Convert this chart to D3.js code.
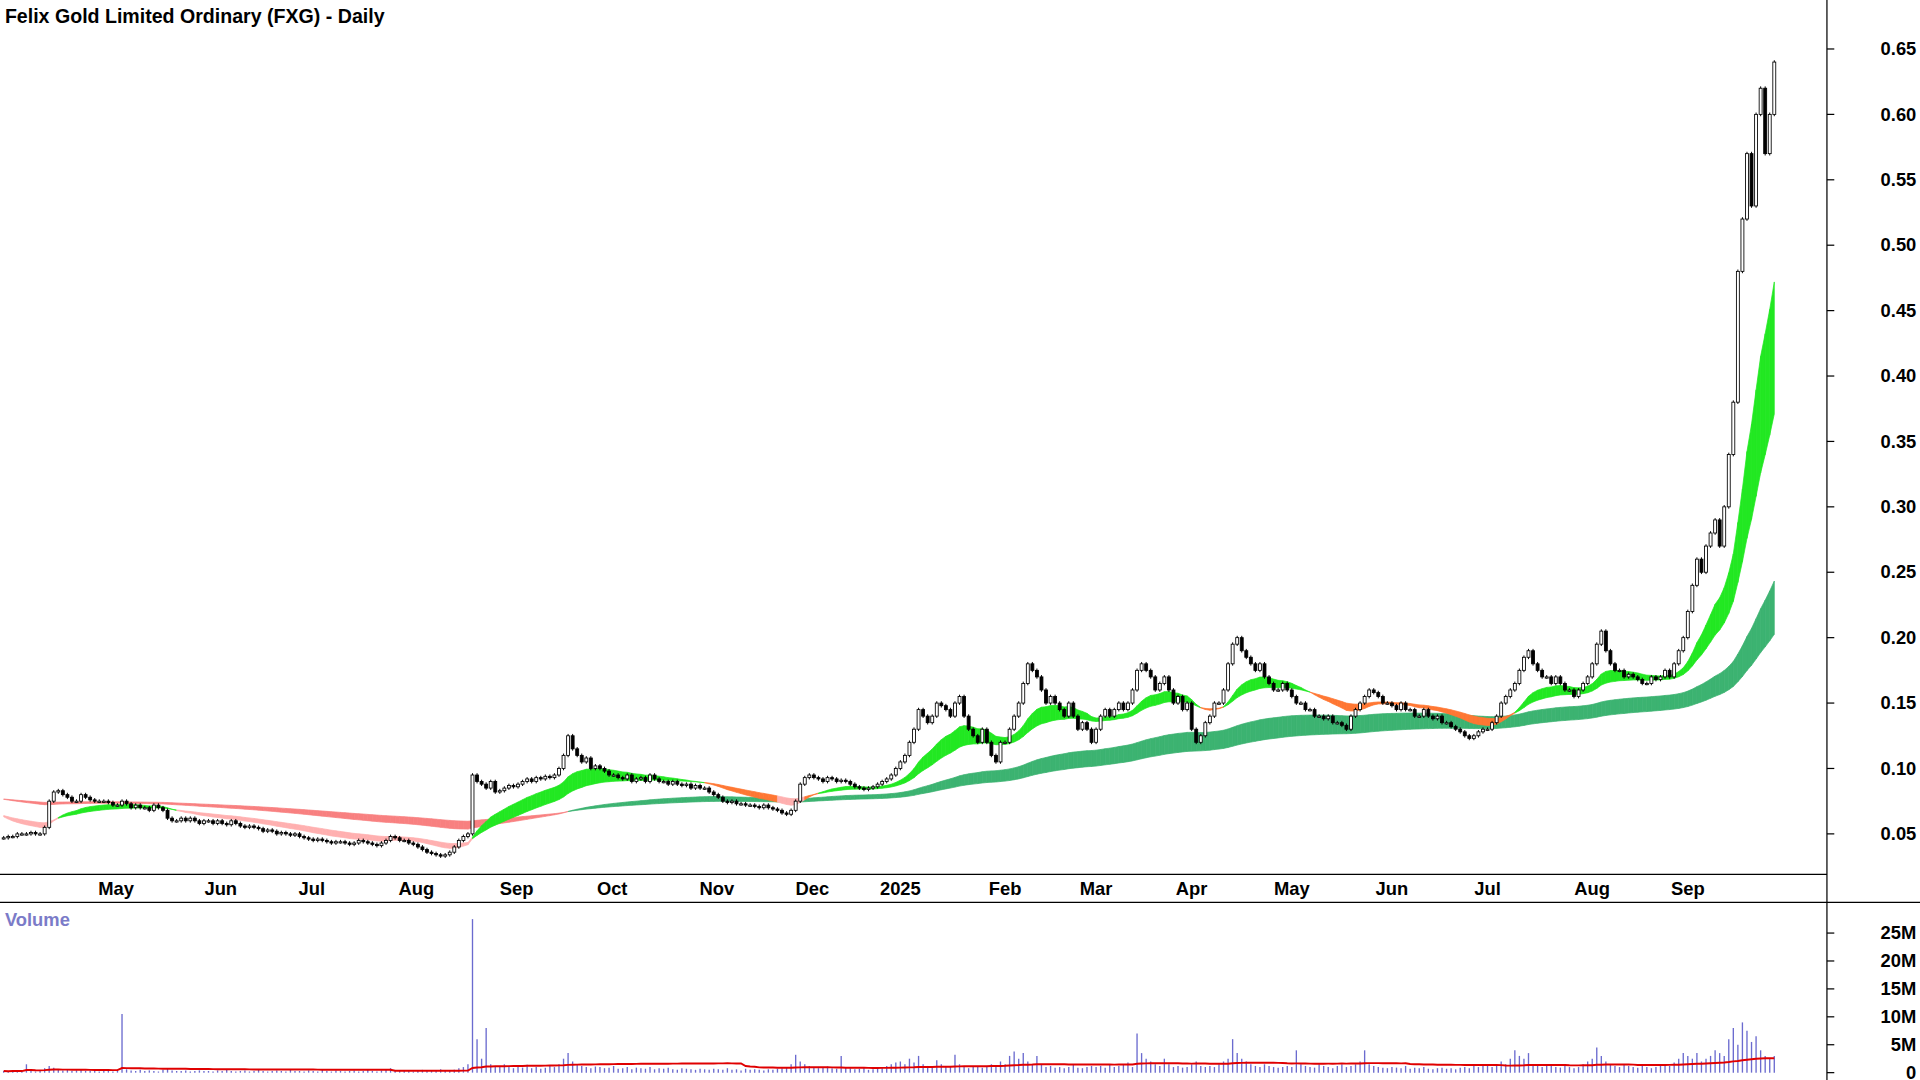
<!DOCTYPE html>
<html><head><meta charset="utf-8">
<script src="https://cdn.jsdelivr.net/npm/d3@7"></script>
<style>body{margin:0;background:#fff}svg{display:block}text{font-family:"Liberation Sans",Arial,sans-serif;font-weight:bold}</style>
</head><body>
<svg id="c" width="1920" height="1080" viewBox="0 0 1568 882"></svg>
<script>
const title = "Felix Gold Limited Ordinary (FXG) - Daily";
const months = ["2024-04","2024-05","2024-06","2024-07","2024-08","2024-09","2024-10","2024-11","2024-12","2025-01","2025-02","2025-03","2025-04","2025-05","2025-06","2025-07","2025-08","2025-09"];
const monthLabels = ["Apr","May","Jun","Jul","Aug","Sep","Oct","Nov","Dec","2025","Feb","Mar","Apr","May","Jun","Jul","Aug","Sep"];
const closes = [
[0.047,0.048,0.048,0.05,0.05,0.05,0.051,0.05,0.05,0.055,0.075,0.082,0.083,0.08,0.078,0.075,0.075,0.08,0.078,0.076,0.075,0.075],
[0.075,0.074,0.072,0.072,0.075,0.073,0.07,0.072,0.07,0.07,0.068,0.072,0.07,0.068,0.062,0.06,0.06,0.062,0.06,0.062,0.06,0.058,0.06],
[0.06,0.058,0.06,0.058,0.057,0.06,0.058,0.056,0.055,0.056,0.055,0.054,0.052,0.053,0.052,0.05,0.051,0.05,0.049,0.05],
[0.048,0.047,0.046,0.045,0.046,0.045,0.044,0.043,0.044,0.044,0.043,0.042,0.043,0.045,0.044,0.043,0.042,0.041,0.043,0.045,0.048,0.047,0.045],
[0.045,0.043,0.042,0.04,0.038,0.036,0.035,0.034,0.033,0.034,0.036,0.04,0.045,0.048,0.05,0.095,0.09,0.088,0.085,0.09,0.082,0.083],
[0.085,0.087,0.086,0.088,0.09,0.092,0.09,0.093,0.092,0.094,0.093,0.095,0.1,0.11,0.125,0.115,0.11,0.105,0.108,0.1,0.102],
[0.1,0.098,0.095,0.095,0.093,0.092,0.095,0.09,0.092,0.093,0.09,0.095,0.092,0.09,0.09,0.088,0.09,0.088,0.087,0.088,0.085,0.087,0.085],
[0.085,0.082,0.08,0.078,0.075,0.074,0.075,0.073,0.073,0.072,0.072,0.071,0.07,0.072,0.07,0.069,0.068,0.066,0.065,0.068,0.075],
[0.088,0.093,0.095,0.093,0.092,0.09,0.093,0.092,0.09,0.091,0.09,0.088,0.086,0.085,0.084,0.085,0.086,0.088,0.09,0.092,0.095,0.1],
[0.105,0.11,0.12,0.13,0.145,0.14,0.135,0.14,0.15,0.148,0.145,0.14,0.15,0.155,0.14,0.13,0.125,0.12,0.13,0.12,0.11,0.105,0.12],
[0.12,0.13,0.14,0.15,0.165,0.18,0.175,0.17,0.16,0.15,0.155,0.15,0.145,0.14,0.15,0.14,0.13,0.135,0.13,0.12],
[0.13,0.14,0.145,0.14,0.145,0.15,0.145,0.15,0.16,0.175,0.18,0.175,0.17,0.16,0.165,0.17,0.16,0.15,0.155,0.145,0.15],
[0.13,0.12,0.125,0.135,0.14,0.15,0.15,0.16,0.18,0.195,0.2,0.19,0.185,0.18,0.175,0.18,0.17,0.165,0.16,0.16,0.165,0.16],
[0.155,0.15,0.15,0.145,0.145,0.14,0.14,0.138,0.14,0.135,0.135,0.133,0.13,0.14,0.145,0.15,0.155,0.16,0.158,0.155,0.15,0.15],
[0.148,0.145,0.15,0.145,0.145,0.14,0.14,0.145,0.14,0.138,0.14,0.135,0.135,0.132,0.13,0.128,0.125,0.123,0.125,0.128,0.13],
[0.13,0.135,0.14,0.15,0.155,0.16,0.165,0.175,0.185,0.19,0.18,0.175,0.17,0.17,0.165,0.17,0.165,0.16,0.16,0.155,0.16,0.165,0.17],
[0.18,0.195,0.205,0.19,0.18,0.175,0.175,0.17,0.172,0.17,0.168,0.165,0.165,0.17,0.168,0.17,0.175,0.17,0.18,0.19,0.2],
[0.22,0.24,0.26,0.25,0.27,0.28,0.29,0.27,0.3,0.34,0.38,0.48,0.52,0.57,0.53,0.6,0.62,0.57,0.6,0.64]];
const volumes = [
[0.3,0.2,0.4,0.3,0.2,1.5,0.3,0.2,0.3,0.8,1.2,0.9,0.6,0.4,0.5,0.3,0.4,0.5,0.3,0.4,0.3,0.2],
[0.3,0.4,0.2,0.3,10.5,0.6,0.4,0.3,0.5,0.3,0.4,0.3,0.2,0.5,0.8,0.4,0.3,0.3,0.4,0.2,0.3,0.4,0.3],
[0.3,0.2,0.4,0.3,0.5,0.3,0.2,0.3,0.4,0.2,0.3,0.5,0.3,0.2,0.3,0.4,0.3,0.2,0.6,0.3],
[0.3,0.2,0.4,0.3,0.2,0.5,0.3,0.2,0.4,0.3,0.2,0.3,0.4,0.2,0.3,0.5,0.3,0.2,0.4,0.6,0.8,0.4,0.3],
[0.3,0.4,0.2,0.3,0.5,0.3,0.4,0.3,0.6,0.4,0.3,0.5,0.8,1.0,1.5,27.5,6.0,2.5,8.0,1.5,1.2,1.0],
[1.5,1.0,0.8,1.2,0.9,1.4,0.8,1.0,0.7,0.9,1.2,1.0,1.5,2.5,3.5,2.0,1.5,1.2,1.0,0.8,1.1],
[1.0,0.8,0.9,1.2,0.7,0.8,1.0,0.6,0.9,0.8,0.7,1.0,0.6,0.8,0.7,0.9,0.6,0.5,0.8,0.7,0.6,0.5,0.7],
[0.6,0.5,0.7,0.6,0.5,0.8,0.5,0.6,0.4,0.7,0.5,0.6,0.5,0.4,0.6,0.5,0.7,0.8,1.0,1.5,3.2],
[2.0,1.5,1.2,1.0,0.8,0.9,1.1,0.8,0.7,3.0,1.0,0.8,0.6,0.7,0.9,0.5,0.6,0.8,1.0,1.2,1.5,1.8],
[2.0,1.5,2.5,1.8,3.0,1.5,1.2,1.0,2.2,1.5,1.0,1.2,3.2,1.5,1.0,0.8,1.0,1.2,0.9,1.0,1.5,1.2,2.0],
[1.5,3.0,3.8,2.5,3.5,2.0,1.5,3.0,1.5,1.0,1.2,0.9,1.0,0.8,1.0,1.5,0.9,0.8,1.0,1.2],
[1.0,1.2,0.9,1.5,1.0,1.2,1.5,1.8,1.0,7.0,3.5,2.5,2.0,1.5,1.2,2.5,1.5,1.0,1.2,0.9,1.0],
[1.5,2.0,1.2,1.0,1.2,1.0,1.5,2.0,2.5,6.0,3.5,2.5,2.0,1.5,1.2,1.0,1.5,1.2,1.0,0.9,1.0,1.2],
[1.0,4.0,1.5,1.2,1.0,0.9,1.5,1.2,1.0,0.8,1.2,1.5,1.0,1.2,1.5,2.0,4.0,1.5,1.2,1.0,0.9,0.8],
[1.0,0.9,0.8,1.2,0.7,0.9,0.8,1.0,0.7,0.6,0.8,0.9,0.7,0.8,0.6,0.9,1.0,0.8,1.2,1.0,1.5],
[1.2,1.0,1.5,2.0,1.5,2.5,4.0,3.0,2.5,3.5,1.5,1.2,1.0,1.5,1.2,1.0,0.9,1.2,1.0,0.8,1.0,1.5,2.0],
[2.5,4.5,3.0,2.0,1.5,1.2,1.0,1.5,1.2,1.0,0.9,1.2,1.0,0.8,1.0,1.2,1.5,1.2,1.8,2.5,3.5],
[3.0,2.5,3.5,2.0,2.5,3.0,4.0,3.5,3.0,6.0,8.0,5.0,9.0,7.5,5.5,6.5,4.0,3.0,2.5,3.0]];
const priorShort = 0.065, priorLong = 0.077;
const priceTicks = [0.05,0.10,0.15,0.20,0.25,0.30,0.35,0.40,0.45,0.50,0.55,0.60,0.65];
const volTicks = [0,5,10,15,20,25];

const days = [], monthStart = [];
closes.forEach((arr, m) => { monthStart.push(days.length); arr.forEach((c, j) => days.push({c, v: volumes[m][j]})); });
days.forEach((d, i) => { d.o = i ? days[i-1].c : d.c; d.h = Math.max(d.o, d.c); d.l = Math.min(d.o, d.c); });
const N = days.length;
function ema(p, seed){ const k = 2/(p+1); let e = seed; return days.map(d => (e = d.c*k + e*(1-k))); }
const sA = ema(17, priorShort), sB = ema(34, priorShort), lA = ema(105, priorLong), lB = ema(175, priorLong);
const vma = days.map((d,i)=>{ const s = days.slice(Math.max(0,i-59), i+1); return d3.mean(s, q=>q.v); });

const svg = d3.select("#c");
const x = d3.scaleLinear().domain([0, N-1]).range([3, 1449]);
const y = d3.scaleLinear().domain([0.05, 0.65]).range([681, 40]);
const yv = d3.scaleLinear().domain([0, 25]).range([876, 762]);

svg.append("rect").attr("width",1568).attr("height",882).attr("fill","#fff");
svg.append("clipPath").attr("id","cp").append("rect").attr("width",1492).attr("height",714);
const g = svg.append("g").attr("clip-path","url(#cp)");

function band(a, b, colorFn){
  const ar = d3.area().x(j=>x(j)).y0(j=>y(Math.min(a[j],b[j]))).y1(j=>y(Math.max(a[j],b[j])));
  for (let i = 0; i < N-1; i++){
    const c = colorFn(i);
    g.append("path").attr("d", ar([i, i+1])).attr("fill", c).attr("stroke", c).attr("stroke-width",0.6);
  }
}
band(lA, lB, i => lA[i] > lB[i] ? "#3cb371" : "#f88080");
band(sA, sB, i => sA[i] > sB[i] ? "#22e822" : (sA[i] < lA[i] && sA[i] < lB[i] ? "#ffb0b0" : "#ff7733"));

const cw = 2.4;
days.forEach((d,i)=>{
  const cx = x(i);
  g.append("line").attr("x1",cx).attr("x2",cx).attr("y1",y(d.h)-1.5).attr("y2",y(d.l)+1.5).attr("stroke","#000").attr("stroke-width",0.8);
  const up = d.c >= d.o;
  g.append("rect").attr("x",cx-cw/2).attr("width",cw).attr("y",y(d.h)).attr("height",Math.max(1,y(d.l)-y(d.h)))
   .attr("fill", up ? "#fff" : "#000").attr("stroke","#000").attr("stroke-width",0.7);
});

svg.append("line").attr("x1",1492).attr("x2",1492).attr("y1",0).attr("y2",882).attr("stroke","#000");
svg.append("line").attr("x1",0).attr("x2",1492).attr("y1",714).attr("y2",714).attr("stroke","#000");
svg.append("line").attr("x1",0).attr("x2",1568).attr("y1",737).attr("y2",737).attr("stroke","#000");

priceTicks.forEach(p=>{
  svg.append("line").attr("x1",1492).attr("x2",1498).attr("y1",y(p)).attr("y2",y(p)).attr("stroke","#000");
  svg.append("text").attr("x",1565).attr("y",y(p)+5).attr("text-anchor","end").attr("font-size",15).text(p.toFixed(2));
});
monthStart.forEach((s,m)=>{
  if (m===0) return;
  svg.append("text").attr("x",x(s)+(m>8?0:10)).attr("y",731).attr("text-anchor","middle").attr("font-size",15).text(monthLabels[m]);
});
svg.append("text").attr("x",4).attr("y",19).attr("font-size",16).text(title);

days.forEach((d,i)=>{
  svg.append("line").attr("x1",x(i)).attr("x2",x(i)).attr("y1",yv(0)).attr("y2",yv(d.v)).attr("stroke","#6b6bcf").attr("stroke-width",1.1);
});
svg.append("path").attr("d", d3.line().x((d,i)=>x(i)).y(d=>yv(d))(vma)).attr("fill","none").attr("stroke","#e00000").attr("stroke-width",1.6);
volTicks.forEach(t=>{
  svg.append("line").attr("x1",1492).attr("x2",1498).attr("y1",yv(t)).attr("y2",yv(t)).attr("stroke","#000");
  svg.append("text").attr("x",1565).attr("y",yv(t)+5).attr("text-anchor","end").attr("font-size",15).text(t===0?"0":t+"M");
});
svg.append("text").attr("x",4).attr("y",756).attr("font-size",15).attr("fill","#7b7bc8").text("Volume");
</script>
</body></html>
